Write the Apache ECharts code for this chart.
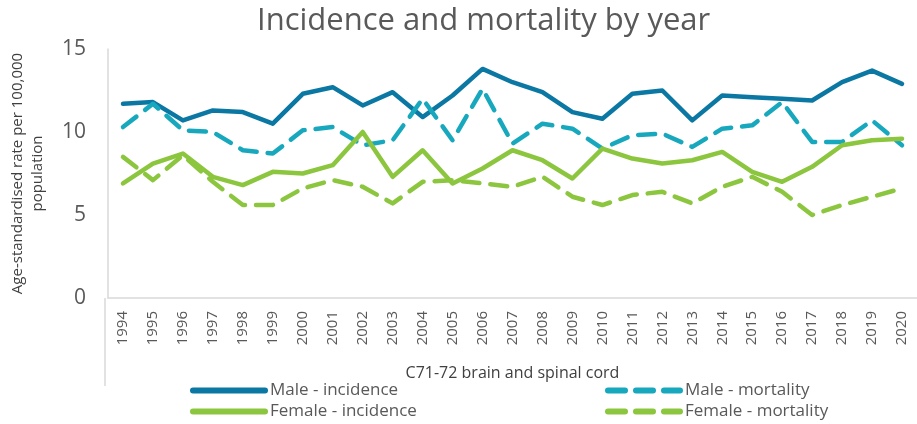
<!DOCTYPE html>
<html>
<head>
<meta charset="utf-8">
<script src="https://cdn.jsdelivr.net/npm/echarts@6/dist/echarts.min.js"></script>
<style>
html,body{margin:0;padding:0;background:#fff;}
#chart{width:917px;height:424px;}
</style>
</head>
<body>
<div id="chart"></div>
<script>
const years = ['1994','1995','1996','1997','1998','1999','2000','2001','2002','2003','2004','2005','2006','2007','2008','2009','2010','2011','2012','2013','2014','2015','2016','2017','2018','2019','2020'];
const maleIncidence = [11.7,11.8,10.7,11.3,11.2,10.5,12.3,12.7,11.6,12.4,10.9,12.2,13.8,13.0,12.4,11.2,10.8,12.3,12.5,10.7,12.2,12.1,12.0,11.9,13.0,13.7,12.9];
const maleMortality = [10.3,11.7,10.1,10.0,8.9,8.7,10.1,10.3,9.2,9.5,12.0,9.5,12.6,9.3,10.5,10.2,9.0,9.8,9.9,9.1,10.2,10.4,11.8,9.4,9.4,10.7,9.2];
const femaleIncidence = [6.9,8.1,8.7,7.3,6.8,7.6,7.5,8.0,10.0,7.3,8.9,6.9,7.8,8.9,8.3,7.2,9.0,8.4,8.1,8.3,8.8,7.6,7.0,7.9,9.2,9.5,9.6];
const femaleMortality = [8.5,7.1,8.6,7.0,5.6,5.6,6.6,7.1,6.7,5.7,7.0,7.1,6.9,6.7,7.3,6.1,5.6,6.2,6.4,5.7,6.7,7.3,6.4,5.0,5.6,6.1,6.6];
const yTicks = [0,5,10,15];

const cDark = '#0B78A4';
const cTeal = '#17A8BD';
const cGreen = '#8CC63F';
const txt = '#595959';
const narrow = '"Liberation Sans Narrow", "Open Sans", sans-serif';

const chart = echarts.init(document.getElementById('chart'));
function mk(name, data, color, dashed) {
  return {
    name, type: 'line', data, symbol: 'none', smooth: false,
    lineStyle: { color, width: 4.5, type: dashed ? [17, 11] : 'solid', cap: 'round', join: 'round' },
    itemStyle: { color },
    emphasis: { disabled: true }
  };
}
const legendBase = {
  orient: 'vertical', top: 382, height: 45, padding: 0,
  itemWidth: 72, itemHeight: 12, itemGap: 4,
  itemStyle: { opacity: 0 },
  lineStyle: { width: 6, cap: 'round' },
  textStyle: { fontSize: 17, color: txt, fontFamily: narrow, padding: [0, 0, 0, 0] }
};
chart.setOption({
  animation: false,
  title: {
    text: 'Incidence and mortality by year',
    left: 252, top: 1,
    textStyle: { fontFamily: '"Open Sans", sans-serif', fontSize: 31, fontWeight: 'normal', color: txt }
  },
  grid: { left: 105, right: -8, top: 49, bottom: 126 },
  xAxis: {
    type: 'category', data: years, boundaryGap: true,
    axisLine: { show: true, lineStyle: { color: '#d9d9d9', width: 1.5 } },
    axisTick: { show: false },
    axisLabel: { rotate: 90, fontSize: 15, color: txt, margin: 13, fontFamily: '"Open Sans", sans-serif', interval: 0 },
    name: 'C71-72 brain and spinal cord', nameLocation: 'middle', nameGap: 67,
    nameTextStyle: { fontSize: 16, color: '#404040', fontFamily: narrow }
  },
  yAxis: {
    type: 'value', min: 0, max: 15, interval: 5,
    axisLine: { show: true, lineStyle: { color: '#d9d9d9', width: 1.5 } },
    splitLine: { show: false },
    axisTick: { show: false },
    axisLabel: { fontSize: 21, color: txt, margin: 22, fontFamily: '"Open Sans", sans-serif' },
    name: 'Age-standardised rate per 100,000\npopulation', nameLocation: 'middle', nameGap: 60,
    nameTextStyle: { fontSize: 15, color: '#404040', fontFamily: narrow, lineHeight: 20 }
  },
  legend: [
    Object.assign({}, legendBase, { data: ['Male - incidence', 'Female - incidence'], left: 190 }),
    Object.assign({}, legendBase, { data: ['Male - mortality', 'Female - mortality'], left: 605 })
  ],
  graphic: [
    { type: 'line', shape: { x1: 105, y1: 298, x2: 105, y2: 386 }, style: { stroke: '#d9d9d9', lineWidth: 1.5 } }
  ],
  series: [
    mk('Male - incidence', maleIncidence, cDark, false),
    mk('Male - mortality', maleMortality, cTeal, true),
    mk('Female - incidence', femaleIncidence, cGreen, false),
    mk('Female - mortality', femaleMortality, cGreen, true)
  ]
});
</script>
</body>
</html>
